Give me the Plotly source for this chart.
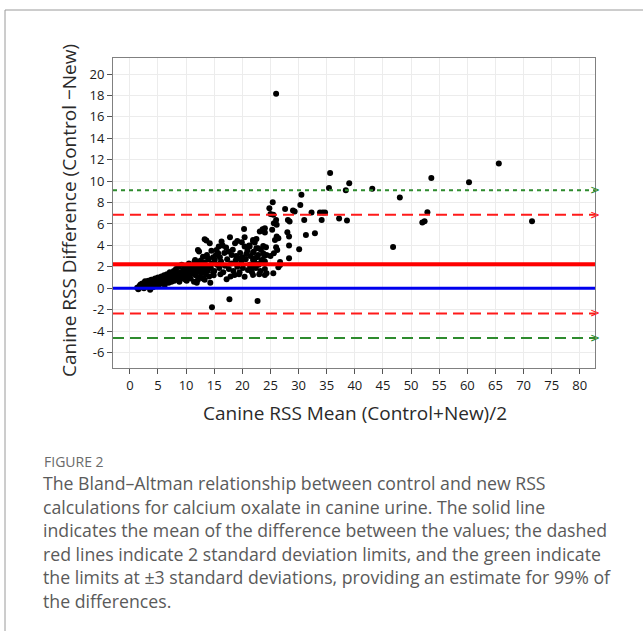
import plotly.graph_objects as go

# ---------------- data ----------------
mean_vals = [
    # dense low band
    1.3, 1.5, 1.7, 1.9, 2.0, 2.2, 2.3, 2.5, 2.6, 2.8, 2.9, 3.0, 3.2, 3.3, 3.5, 3.6, 3.7, 3.9, 4.0, 4.1,
    4.3, 4.4, 4.5, 4.7, 4.8, 4.9, 5.0, 5.2, 5.3, 5.4, 5.6, 5.7, 5.8, 6.0, 6.1, 6.2, 6.4, 6.5, 6.6, 6.8,
    6.9, 7.0, 7.1, 7.3, 7.4, 7.5, 7.7, 7.8, 7.9, 8.0, 8.2, 8.3, 8.4, 8.6, 8.7, 8.8, 9.0, 9.1, 9.2, 9.4,
    9.5, 9.6, 9.8, 9.9, 10.0, 10.1, 10.3, 10.4, 10.5, 10.7, 10.8, 11.0, 11.1, 11.3, 11.4, 11.5, 11.7, 11.8, 11.9, 12.0,
    12.2, 12.3, 12.4, 12.6, 12.7, 12.9, 13.0, 13.1, 13.3, 13.5, 13.6, 13.8, 14.0, 14.1, 14.3, 14.4, 14.6, 14.8,
    2.4, 3.4, 4.2, 5.1, 5.9, 6.7, 7.6, 8.5, 9.3, 10.2, 11.2, 12.1, 13.2, 2.7, 3.8, 4.6, 5.5, 6.3, 7.2, 8.1,
    8.9, 9.7, 10.6, 11.6, 12.5, 13.4, 14.2,
    # middle cluster
    12.3, 12.1, 11.6, 13.0, 13.9, 13.3, 13.6, 14.2, 15.1, 15.4, 15.7, 16.3, 17.5, 18.1, 17.8, 19.1, 19.3, 20.4,
    20.3, 20.4, 20.9, 21.9, 21.9, 22.8, 23.7, 24.0, 12.1, 13.3, 17.2, 18.6, 20.4, 21.9, 24.3, 14.6, 17.7, 22.7,
    15.0, 15.5, 15.9, 16.2, 16.6, 16.9, 17.3, 17.6, 18.0, 18.4, 18.8, 19.1, 19.5, 19.8, 20.1, 20.6, 21.0, 21.3,
    21.7, 22.1, 22.4, 22.9, 23.2, 23.6, 24.0, 14.8, 15.3, 16.0, 16.8, 17.1, 18.3, 18.9, 19.6, 20.0, 20.7, 21.4,
    22.0, 22.6, 23.3, 23.9, 16.5, 18.7, 19.9, 21.2, 22.5, 15.8, 14.5, 13.7, 14.9, 16.1, 17.9, 19.4, 21.5, 23.0,
    # upper cluster
    21.9, 22.2, 21.3, 23.7, 24.2, 22.5, 26.0, 26.2, 28.3, 30.1, 25.6, 25.0, 24.3, 21.9, 22.8, 22.2, 28.3, 23.4,
    24.0, 22.8, 26.7, 26.4, 21.6, 22.0, 24.0, 25.5, 26.7, 26.1, 26.4, 25.8, 23.6, 24.0, 23.1, 25.3, 28.0, 31.3,
    32.9, 25.6, 26.1, 26.0, 28.1, 28.4, 31.0, 34.1, 25.0, 25.5, 24.8, 27.6, 29.0, 29.3, 32.3, 33.8, 34.3, 25.4,
    30.3, 30.5, 35.4, 35.6, 28.3,
    # sparse high values
    34.7, 37.2, 38.4, 38.6, 39.0, 43.1, 46.8, 48.0, 52.0, 52.4, 52.9, 53.6, 60.3, 65.6, 71.5, 26.0,
]
diff_vals = [
    0.05, -0.1, 0.2, 0.35, 0.1, 0.45, 0.25, 0.0, 0.5, 0.3, 0.6, 0.15, 0.4, 0.7, 0.25, -0.15, 0.55, 0.35, 0.8, 0.1,
    0.6, 0.4, 0.9, 0.2, 0.7, 0.5, 1.0, 0.35, 0.8, 0.6, 1.1, 0.45, 0.9, 0.7, 1.2, 0.3, 1.0, 0.6, 1.3, 0.8,
    0.5, 1.1, 1.5, 0.9, 0.6, 1.3, 1.0, 1.6, 0.7, 1.2, 1.8, 0.9, 1.4, 1.1, 2.0, 0.6, 1.5, 1.2, 2.2, 0.9,
    1.7, 1.3, 2.0, 0.8, 1.5, 0.7, 1.9, 1.2, 2.3, 1.6, 0.9, 2.1, 1.4, 1.8, 0.6, 2.5, 1.2, 2.0, 0.5, 1.6,
    2.3, 1.0, 1.9, 2.6, 1.4, 2.1, 0.9, 1.7, 2.4, 1.3, 2.0, 1.6, 2.7, 1.1, 0.5, 1.9, 2.3, 1.5,
    0.2, 0.45, 0.55, 0.75, 0.95, 1.05, 1.15, 1.3, 1.45, 1.6, 1.75, 1.85, 1.95, 0.65, 0.8, 0.3, 0.5, 0.55, 0.75, 0.95,
    1.0, 1.15, 1.25, 1.35, 1.5, 1.6, 2.1,
    3.42, 3.58, 2.64, 2.95, 2.8, 4.58, 4.45, 4.2, 2.64, 3.58, 3.27, 4.36, 3.42, 3.11, 4.77, 4.42, 2.8, 4.77,
    5.54, 3.89, 3.51, 4.36, 2.64, 3.74, 3.27, 5.2, 0.78, 0.78, 0.84, 1.24, 1.08, 1.24, 1.4, -1.78, -1.03, -1.2,
    1.6, 2.2, 1.9, 2.5, 1.5, 2.1, 2.7, 1.8, 2.3, 1.6, 2.6, 2.0, 1.5, 2.4, 1.9, 2.7, 1.7, 2.2,
    1.5, 2.5, 1.9, 2.2, 1.6, 2.4, 1.8, 2.9, 3.1, 2.9, 3.3, 3.8, 3.6, 3.0, 3.3, 2.9, 3.2, 3.0,
    3.4, 2.9, 3.6, 3.0, 4.0, 4.2, 4.3, 4.0, 4.6, 3.9, 3.5, 3.1, 1.2, 1.3, 1.1, 1.3, 1.8, 1.3,
    4.51, 4.26, 3.89, 3.95, 3.83, 3.74, 3.83, 3.58, 3.98, 3.64, 3.27, 3.02, 3.11, 3.33, 3.11, 2.8, 2.8, 2.64,
    2.49, 2.27, 2.18, 1.96, 2.08, 1.96, 1.24, 1.40, 2.45, 4.82, 4.67, 4.51, 5.51, 5.6, 5.29, 5.45, 5.23, 4.98,
    5.14, 6.07, 5.92, 6.38, 6.38, 6.22, 6.38, 6.38, 6.94, 6.85, 7.47, 7.41, 7.25, 7.16, 7.07, 7.07, 7.07, 8.04,
    7.78, 8.72, 9.37, 10.75, 4.82,
    7.07, 6.5, 9.16, 6.32, 9.81, 9.28, 3.86, 8.47, 6.13, 6.26, 7.1, 10.3, 9.9, 11.65, 6.26, 18.15,
]

mean_diff = 2.25
sd_diff = 2.3
limit_names = ["+3 SD", "+2 SD", "-2 SD", "-3 SD"]
limit_vals = [mean_diff + 3 * sd_diff, mean_diff + 2 * sd_diff, mean_diff - 2 * sd_diff, mean_diff - 3 * sd_diff]
limit_colors = ["#2e8b2e", "#ff1a1a", "#ff1a1a", "#2e8b2e"]
limit_dashes = ["4px,4px", "11px,6px", "11px,6px", "11px,6px"]

x_ticks = list(range(0, 81, 5))
x_ticktext = [str(v) for v in x_ticks]
y_ticks = list(range(-6, 21, 2))
y_ticktext = [str(v) for v in y_ticks]  # plain hyphen minus as in the original
x_range = [-3.0, 82.7]
y_range = [-7.45, 21.5]

x_title = "Canine RSS Mean (Control+New)/2"
y_title = "Canine RSS Difference (Control \u2212New)"
caption_head = "FIGURE 2"
caption_lines = [
    "The Bland\u2013Altman relationship between control and new RSS",
    "calculations for calcium oxalate in canine urine. The solid line",
    "indicates the mean of the difference between the values; the dashed",
    "red lines indicate 2 standard deviation limits, and the green indicate",
    "the limits at \u00b13 standard deviations, providing an estimate for 99% of",
    "the differences.",
]

# ---------------- figure ----------------
W, H = 643, 631
L, R, T, B = 113, 48, 58, 263
pw, ph = W - L - R, H - T - B


def px_x(px):
    return (px - L) / pw


def px_y(py):
    return (H - B - py) / ph


fig = go.Figure()

fig.add_trace(go.Scatter(
    x=mean_vals, y=diff_vals, mode="markers",
    marker=dict(color="black", size=6, line=dict(width=0)),
    showlegend=False, hoverinfo="x+y",
))

for val, col, dash in zip(limit_vals, limit_colors, limit_dashes):
    fig.add_trace(go.Scatter(x=x_range, y=[val, val], mode="lines",
                             line=dict(color=col, width=2, dash=dash),
                             showlegend=False, hoverinfo="skip"))
fig.add_trace(go.Scatter(x=x_range, y=[0, 0], mode="lines",
                         line=dict(color="#0000ee", width=3), showlegend=False, hoverinfo="skip"))
fig.add_trace(go.Scatter(x=x_range, y=[mean_diff, mean_diff], mode="lines",
                         line=dict(color="#ff0000", width=4), showlegend=False, hoverinfo="skip"))

annotations = []
for val, col in zip(limit_vals, limit_colors):
    annotations.append(dict(x=1.0, xref="paper", y=val, yref="y", text=">", showarrow=False,
                            xanchor="center", yanchor="middle",
                            font=dict(size=12, color=col, family="DejaVu Sans")))

annotations.append(dict(x=px_x(69), xref="paper", y=px_y(211), yref="paper", text=y_title,
                        textangle=-90, showarrow=False, xanchor="center", yanchor="middle",
                        font=dict(size=19, color="#2a2a2a", family="Open Sans")))
annotations.append(dict(x=px_x(355), xref="paper", y=px_y(413), yref="paper", text=x_title,
                        showarrow=False, xanchor="center", yanchor="middle",
                        font=dict(size=19, color="#2a2a2a", family="Open Sans")))
annotations.append(dict(x=px_x(42), xref="paper", y=px_y(461), yref="paper", text=caption_head,
                        showarrow=False, xanchor="left", yanchor="middle",
                        font=dict(size=14, color="#6a6a6a", family="Open Sans")))
for i, line in enumerate(caption_lines):
    annotations.append(dict(x=px_x(41), xref="paper", y=px_y(483 + 23.6 * i), yref="paper", text=line,
                            showarrow=False, xanchor="left", yanchor="middle",
                            font=dict(size=17.7, color="#5a5a5a", family="Open Sans")))

shapes = [
    dict(type="line", xref="paper", yref="paper", x0=px_x(5), x1=px_x(660), y0=px_y(10), y1=px_y(10),
         line=dict(color="#9a9a9a", width=1)),
    dict(type="line", xref="paper", yref="paper", x0=px_x(5), x1=px_x(5), y0=px_y(10), y1=px_y(650),
         line=dict(color="#9a9a9a", width=1)),
]

axis_common = dict(showgrid=True, gridcolor="#ececec", gridwidth=1, zeroline=False,
                   showline=True, linecolor="#808080", linewidth=1, mirror=True,
                   ticks="outside", ticklen=5, tickcolor="#555555",
                   tickfont=dict(size=13, color="#1a1a1a", family="Open Sans"))

fig.update_layout(
    width=W, height=H,
    margin=dict(l=L, r=R, t=T, b=B),
    paper_bgcolor="white", plot_bgcolor="white",
    xaxis=dict(range=x_range, tickvals=x_ticks, ticktext=x_ticktext, **axis_common),
    yaxis=dict(range=y_range, tickvals=y_ticks, ticktext=y_ticktext, **axis_common),
    annotations=annotations, shapes=shapes,
    showlegend=False,
)

fig.write_html("out.html")
